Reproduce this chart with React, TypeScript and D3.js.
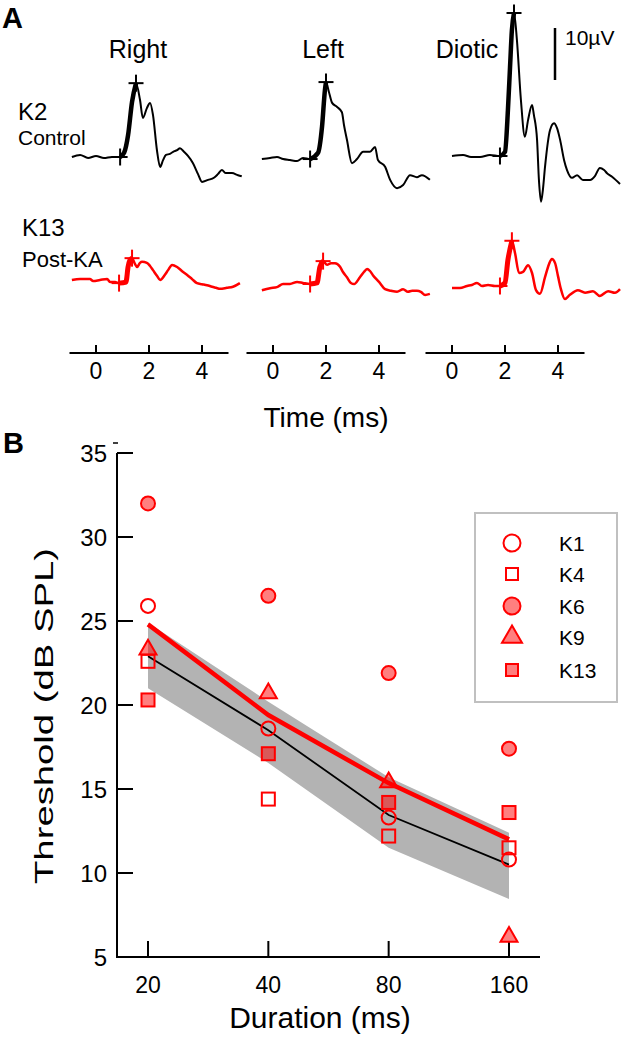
import React from "react";
import * as d3 from "d3";

// ---------- Panel A data: ABR traces, [time ms, amplitude µV] ----------
const rightCtrl: [number, number][] = [[-0.91,0],[-0.6,0.4],[-0.3,-0.2],[0,0.2],[0.3,-0.2],[0.6,0],[0.91,0],[1.06,0.8],[1.21,4.2],[1.36,10.6],[1.51,14.2],[1.66,11.0],[1.77,7.5],[1.92,9.4],[2.04,10.4],[2.15,8.1],[2.30,1.3],[2.42,-1.9],[2.53,-0.6],[2.64,0.4],[2.79,0.6],[2.91,1.0],[3.06,1.3],[3.17,1.7],[3.32,1.0],[3.47,0.2],[3.66,-1.2],[3.85,-3.3],[4.0,-4.8],[4.23,-4.4],[4.45,-4.0],[4.6,-3.3],[4.75,-2.5],[4.9,-3.1],[5.13,-3.1],[5.36,-3.5],[5.5,-3.7]];
const leftCtrl: [number, number][] = [[-0.42,-0.2],[-0.11,0],[0.15,0.2],[0.38,-0.2],[0.64,-0.4],[0.91,-0.6],[1.13,0],[1.40,-0.2],[1.70,1.0],[1.85,6.0],[1.96,13.1],[2.0,14.6],[2.11,12.7],[2.23,10.6],[2.42,9.8],[2.60,8.8],[2.68,6.3],[2.79,3.5],[2.98,-1.0],[3.17,-0.2],[3.40,1.2],[3.66,1.2],[3.85,2.1],[3.96,-0.4],[4.23,-1.7],[4.42,-4.2],[4.68,-5.8],[4.91,-5.2],[5.17,-3.3],[5.43,-3.7],[5.62,-3.3],[5.92,-4.2]];
const dioticCtrl: [number, number][] = [[0,0],[0.42,0.2],[0.72,-0.2],[1.06,-0.2],[1.43,0.2],[1.81,0],[2.0,0.8],[2.11,8.8],[2.19,17.1],[2.26,24.2],[2.34,27.5],[2.45,22.3],[2.6,10.8],[2.75,3.7],[2.87,6.9],[3.02,9.8],[3.09,7.9],[3.21,3.1],[3.28,-4.6],[3.36,-8.8],[3.43,-6.5],[3.51,-2.1],[3.70,5.0],[3.85,6.3],[3.96,5.4],[4.08,3.1],[4.23,-0.8],[4.34,-2.7],[4.53,-4.2],[4.72,-3.7],[4.94,-4.6],[5.21,-4.6],[5.40,-3.8],[5.58,-2.3],[5.74,-2.7],[5.85,-3.3],[6.04,-4.0],[6.34,-5.4]];
const rightKA: [number, number][] = [[-0.91,0],[-0.6,0.2],[-0.23,0.2],[-0.11,-0.2],[0.15,0],[0.42,0.2],[0.53,-0.4],[0.72,-0.4],[0.87,-0.6],[1.13,-0.4],[1.21,2.5],[1.28,3.8],[1.36,4.2],[1.47,3.1],[1.55,2.5],[1.66,3.3],[1.74,3.5],[1.92,3.3],[2.04,2.7],[2.15,1.9],[2.30,0.8],[2.42,0],[2.6,1.0],[2.72,1.9],[2.87,2.9],[3.06,2.5],[3.25,1.7],[3.43,1.0],[3.62,0.2],[3.81,-0.6],[4.0,-0.8],[4.19,-1.0],[4.38,-1.3],[4.53,-1.5],[4.68,-1.7],[4.94,-1.5],[5.17,-1.3],[5.43,-0.6]];
const leftKA: [number, number][] = [[-0.42,-1.2],[-0.11,-0.8],[0.15,-0.6],[0.38,0],[0.64,0],[0.91,0.4],[1.13,0.2],[1.40,0],[1.66,0.2],[1.77,3.3],[1.89,4.4],[2.04,3.7],[2.19,4.0],[2.34,4.0],[2.53,3.3],[2.64,2.3],[2.79,1.3],[2.94,0.2],[3.06,0],[3.28,1.3],[3.43,2.3],[3.55,2.9],[3.66,2.5],[3.77,1.7],[4.0,0.4],[4.23,-1.0],[4.45,-1.3],[4.68,-1.5],[4.91,-1.0],[5.09,-1.5],[5.25,-1.3],[5.43,-1.3],[5.58,-1.5],[5.74,-2.1],[5.92,-1.9]];
const dioticKA: [number, number][] = [[0,-0.4],[0.3,-0.4],[0.57,0],[0.75,0.2],[0.94,0.6],[1.13,0],[1.36,0.2],[1.62,0],[1.81,0],[2.0,0.6],[2.11,5.0],[2.26,8.7],[2.38,6.3],[2.53,2.5],[2.68,2.7],[2.87,4.0],[3.02,2.5],[3.17,-0.8],[3.32,-1.5],[3.51,1.7],[3.66,4.2],[3.77,5.2],[3.89,4.4],[4.0,1.9],[4.11,-0.6],[4.26,-2.5],[4.45,-1.7],[4.75,-0.8],[5.02,-1.3],[5.32,-1.0],[5.58,-1.9],[5.89,-1.0],[6.15,-1.3],[6.34,-0.6]];

const conditions = ["Right", "Left", "Diotic"];
const ctrlTraces = [rightCtrl, leftCtrl, dioticCtrl];
const kaTraces = [rightKA, leftKA, dioticKA];
const ctrlOnsetIdx = [6, 7, 5];
const ctrlPeakIdx = [10, 11, 10];
const kaOnsetIdx = [8, 7, 8];
const kaPeakIdx = [12, 10, 11];
const timeTicks = [0, 2, 4];
const scaleBarUV = 10;

// ---------- Panel B data ----------
const durations = [20, 40, 80, 160];
const K1 = [25.9, 18.6, 13.3, 10.8];
const K4 = [22.6, 14.4, 12.2, 11.5];
const K6 = [32.0, 26.5, 21.9, 17.4];
const K9 = [23.3, 20.7, 15.4, 6.2];
const K13 = [20.3, 17.1, 14.2, 13.6];
const ctrlMean = [22.9, 18.5, 13.45, 10.5];
const bandUpper = [24.9, 20.2, 15.7, 12.4];
const bandLower = [21.0, 16.55, 11.5, 8.45];
const kaMean = [24.8, 19.4, 15.35, 12.0];
const thresholdTicks = [5, 10, 15, 20, 25, 30, 35];

const animals = [
  { name: "K1", values: K1, shape: "circle", filled: false },
  { name: "K4", values: K4, shape: "square", filled: false },
  { name: "K6", values: K6, shape: "circle", filled: true },
  { name: "K9", values: K9, shape: "triangle", filled: true },
  { name: "K13", values: K13, shape: "square", filled: true },
];

const FONT = "'Liberation Sans', Arial, Helvetica, sans-serif";
const RED = "#ff0000";
const RED_FILL = "rgba(255,0,0,0.5)";

// ---------- layout ----------
const colX0 = [96, 273, 452];
const pxPerMs = 26.5;
const pxPerUV = 5.2;
const ctrlBase = [157, 158, 156];
const kaBase = [280, 284, 286];
const timeAxisY = 353;

function Marker({ shape, filled, x, y, r, sq, tri }: any) {
  const fill = filled ? RED_FILL : "none";
  if (shape === "circle")
    return <circle cx={x} cy={y} r={r} fill={fill} stroke={RED} strokeWidth={2} />;
  if (shape === "square")
    return <rect x={x - sq / 2} y={y - sq / 2} width={sq} height={sq} fill={fill} stroke={RED} strokeWidth={2} />;
  const area = (Math.sqrt(3) / 4) * tri * tri;
  const p = d3.symbol().type(d3.symbolTriangle).size(area)() as string;
  return <path d={p} transform={`translate(${x},${y})`} fill={fill} stroke={RED} strokeWidth={2} strokeLinejoin="miter" />;
}

function Plus({ x, y, color, w }: any) {
  return (
    <g stroke={color} strokeWidth={w}>
      <line x1={x - 7.5} x2={x + 7.5} y1={y} y2={y} />
      <line x1={x} x2={x} y1={y - 8.5} y2={y + 8.5} />
    </g>
  );
}

function Trace({ data, xs, ys, color, onset, peak, w, thick }: any) {
  const line = d3
    .line<[number, number]>()
    .x((d) => xs(d[0]))
    .y((d) => ys(d[1]))
    .curve(d3.curveMonotoneX);
  const seg = data.slice(onset, peak + 1);
  return (
    <g fill="none">
      <path d={line(data) as string} stroke={color} strokeWidth={w} strokeLinejoin="round" />
      <path d={line(seg) as string} stroke={color} strokeWidth={thick} strokeLinejoin="round" />
      <Plus x={xs(data[onset][0])} y={ys(data[onset][1])} color={color} w={2} />
      <Plus x={xs(data[peak][0])} y={ys(data[peak][1])} color={color} w={2} />
    </g>
  );
}

export default function App() {
  // Panel B scales
  const xB = d3.scaleLog().domain([20, 160]).range([148, 509]);
  const yB = d3.scaleLinear().domain([5, 35]).range([957, 453]);
  const bandArea = d3
    .area<number>()
    .x((_, i) => xB(durations[i]))
    .y0((_, i) => yB(bandLower[i]))
    .y1((_, i) => yB(bandUpper[i]));
  const meanLine = (vals: number[]) =>
    d3
      .line<number>()
      .x((_, i) => xB(durations[i]))
      .y((d) => yB(d))(vals) as string;

  const legendY = [543, 574, 606, 637, 670];

  return (
    <svg
      width={625}
      height={1039}
      style={{ position: "absolute", left: 0, top: 0, background: "#fff" }}
      fontFamily={FONT}
    >
      <rect width={625} height={1039} fill="#fff" />
      {/* ---------------- Panel A ---------------- */}
      <text x={2} y={28} fontSize={29} fontWeight="bold">A</text>
      <text x={18} y={120} fontSize={24}>K2</text>
      <text x={18} y={145} fontSize={21}>Control</text>
      <text x={22} y={236} fontSize={24}>K13</text>
      <text x={22} y={267} fontSize={22}>Post-KA</text>

      {conditions.map((c, ci) => {
        const xs = d3.scaleLinear().domain([0, 1]).range([colX0[ci], colX0[ci] + pxPerMs]);
        const ysC = d3.scaleLinear().domain([0, 1]).range([ctrlBase[ci], ctrlBase[ci] - pxPerUV]);
        const ysK = d3.scaleLinear().domain([0, 1]).range([kaBase[ci], kaBase[ci] - pxPerUV]);
        const labelX = [138, 323, 467][ci];
        return (
          <g key={c}>
            <text x={labelX} y={58} fontSize={25} textAnchor="middle">{c}</text>
            <Trace data={ctrlTraces[ci]} xs={xs} ys={ysC} color="#000" onset={ctrlOnsetIdx[ci]} peak={ctrlPeakIdx[ci]} w={2} thick={4.5} />
            <Trace data={kaTraces[ci]} xs={xs} ys={ysK} color={RED} onset={kaOnsetIdx[ci]} peak={kaPeakIdx[ci]} w={2.5} thick={5} />
            {/* time axis */}
            <line x1={xs(-1)} x2={xs(5)} y1={timeAxisY} y2={timeAxisY} stroke="#000" strokeWidth={2} />
            {timeTicks.map((t) => (
              <g key={t}>
                <line x1={xs(t)} x2={xs(t)} y1={timeAxisY - 8} y2={timeAxisY} stroke="#000" strokeWidth={2} />
                <text x={xs(t)} y={379} fontSize={23} textAnchor="middle">{t}</text>
              </g>
            ))}
          </g>
        );
      })}
      {/* scale bar */}
      <line x1={555} x2={555} y1={28} y2={28 + scaleBarUV * pxPerUV} stroke="#000" strokeWidth={2.5} />
      <text x={565} y={45} fontSize={21}>10µV</text>
      <text x={326} y={427} fontSize={28} textAnchor="middle">Time (ms)</text>

      {/* ---------------- Panel B ---------------- */}
      <text x={3} y={453} fontSize={29} fontWeight="bold">B</text>
      <line x1={113} x2={118} y1={443} y2={443} stroke="#000" strokeWidth={1.5} />
      <line x1={117} x2={117} y1={yB(35)} y2={yB(5)} stroke="#000" strokeWidth={2} />
      <line x1={116} x2={540} y1={yB(5)} y2={yB(5)} stroke="#000" strokeWidth={2} />
      {thresholdTicks.map((t) => (
        <g key={t}>
          <line x1={117} x2={133} y1={yB(t)} y2={yB(t)} stroke="#000" strokeWidth={2} />
          <text x={107} y={yB(t) + 9} fontSize={24} textAnchor="end">{t}</text>
        </g>
      ))}
      {durations.map((d) => (
        <g key={d}>
          <line x1={xB(d)} x2={xB(d)} y1={yB(5) - 16} y2={yB(5)} stroke="#000" strokeWidth={2} />
          <text x={xB(d)} y={993} fontSize={23} textAnchor="middle">{d}</text>
        </g>
      ))}
      <text x={320} y={1028} fontSize={30} textAnchor="middle">Duration (ms)</text>
      <text
        transform="translate(53,716) rotate(-90)"
        fontSize={26}
        textAnchor="middle"
        textLength={336}
        lengthAdjust="spacingAndGlyphs"
      >
        Threshold (dB SPL)
      </text>

      <path d={bandArea(durations) as string} fill="#b3b3b3" />
      <path d={meanLine(ctrlMean)} fill="none" stroke="#000" strokeWidth={1.8} />
      <path d={meanLine(kaMean)} fill="none" stroke={RED} strokeWidth={4.5} />

      {animals.map((a) =>
        a.values.map((v, i) => (
          <Marker key={a.name + i} shape={a.shape} filled={a.filled} x={xB(durations[i])} y={yB(v)} r={7} sq={13} tri={17} />
        ))
      )}

      {/* legend */}
      <rect x={475} y={513} width={142} height={189} fill="none" stroke="#c0c0c0" strokeWidth={2} />
      {animals.map((a, i) => (
        <g key={a.name}>
          <Marker shape={a.shape} filled={a.filled} x={512} y={legendY[i]} r={8.5} sq={12} tri={20} />
          <text x={559} y={legendY[i] + 8} fontSize={21}>{a.name}</text>
        </g>
      ))}
    </svg>
  );
}
